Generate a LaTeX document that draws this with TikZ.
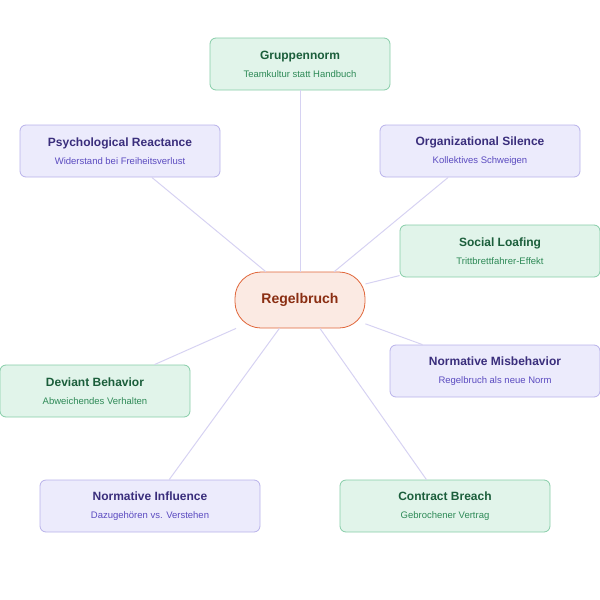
\documentclass[tikz,border=0pt]{standalone}
\usepackage{fontspec}
\setmainfont{Liberation Sans}
\definecolor{gfill}{HTML}{E1F4EA}\definecolor{gdraw}{HTML}{86CDA8}
\definecolor{gtitle}{HTML}{1B5E3B}\definecolor{gsub}{HTML}{2E8A57}
\definecolor{pfill}{HTML}{ECEBFC}\definecolor{pdraw}{HTML}{B8B2EA}
\definecolor{ptitle}{HTML}{3A2E7C}\definecolor{psub}{HTML}{5B4BC0}
\definecolor{ofill}{HTML}{FBEAE3}\definecolor{odraw}{HTML}{E0663A}
\definecolor{otext}{HTML}{8A2E12}\definecolor{edge}{HTML}{D6D2F2}
\begin{document}
\begin{tikzpicture}[x=1pt,y=-1pt,
 box/.style={rounded corners=6pt,line width=0.8pt,align=center,inner sep=0pt},
 gbox/.style={box,fill=gfill,draw=gdraw},
 pbox/.style={box,fill=pbox@fill,draw=pdraw},
 pbox@fill/.style={},
 con/.style={edge,line width=1pt}]
\useasboundingbox (0,0) rectangle (600,600);
\newcommand{\mybox}[7]{% name, cx, cy, w, fill, draw, title, sub via #7
  \node[box,fill=#5,draw=#6,minimum width=#4pt,minimum height=52pt] (#1) at (#2,#3) {#7};}
\newcommand{\gt}[2]{{\color{gtitle}\fontsize{12}{14}\selectfont\bfseries #1}\\[6pt]{\color{gsub}\fontsize{9.5}{11}\selectfont #2}}
\newcommand{\pt}[2]{{\color{ptitle}\fontsize{12}{14}\selectfont\bfseries #1}\\[6pt]{\color{psub}\fontsize{9.5}{11}\selectfont #2}}
\node[rounded corners=26pt,fill=ofill,draw=odraw,line width=0.8pt,minimum width=130pt,minimum height=56pt,font=\fontsize{14}{16}\selectfont\bfseries,text=otext] (c) at (300,300) {Regelbruch};
\mybox{g}{300}{64}{180}{gfill}{gdraw}{\gt{Gruppennorm}{Teamkultur statt Handbuch}}
\mybox{pr}{120}{151}{200}{pfill}{pdraw}{\pt{Psychological Reactance}{Widerstand bei Freiheitsverlust}}
\mybox{os}{480}{151}{200}{pfill}{pdraw}{\pt{Organizational Silence}{Kollektives Schweigen}}
\mybox{sl}{500}{251}{200}{gfill}{gdraw}{\gt{Social Loafing}{Trittbrettfahrer-Effekt}}
\mybox{nm}{495}{371}{210}{pfill}{pdraw}{\pt{Normative Misbehavior}{Regelbruch als neue Norm}}
\mybox{db}{95}{391}{190}{gfill}{gdraw}{\gt{Deviant Behavior}{Abweichendes Verhalten}}
\mybox{ni}{150}{506}{220}{pfill}{pdraw}{\pt{Normative Influence}{Dazugehören vs. Verstehen}}
\mybox{cb}{445}{506}{210}{gfill}{gdraw}{\gt{Contract Breach}{Gebrochener Vertrag}}
\begin{scope}[on background layer/.style={}]
\end{scope}
\foreach \n in {g,pr,os,sl,nm,db,ni,cb}{\draw[con] (c) -- (\n);}
\end{tikzpicture}
\end{document}
